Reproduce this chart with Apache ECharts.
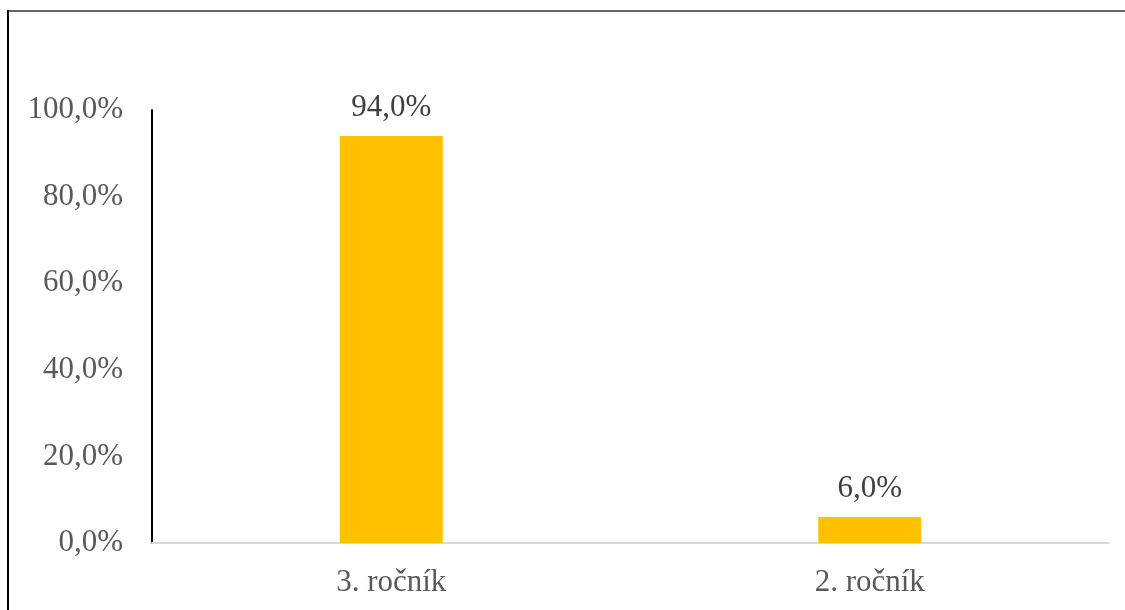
<!DOCTYPE html>
<html>
<head>
<meta charset="utf-8">
<script src="https://cdn.jsdelivr.net/npm/echarts@6/dist/echarts.min.js"></script>
<style>
  html, body { margin: 0; padding: 0; background: #fff; }
  #chart { width: 1125px; height: 610px; }
</style>
</head>
<body>
<div id="chart"></div>
<script>
const categories = ["3. ročník", "2. ročník"];
const values = [94.0, 6.0];
const yTicks = [0, 20, 40, 60, 80, 100];

const font = "'Liberation Serif', 'Times New Roman', serif";
const fmt = v => v.toFixed(1).replace(".", ",") + "%";

const chart = echarts.init(document.getElementById("chart"));
chart.setOption({
  animation: false,
  grid: { left: 152, right: 16, top: 110, bottom: 67 },
  xAxis: {
    type: "category",
    data: categories,
    axisTick: { show: false },
    axisLine: { lineStyle: { color: "#d9d9d9", width: 2 } },
    axisLabel: { color: "#595959", fontFamily: font, fontSize: 31, margin: 24 }
  },
  yAxis: {
    type: "value",
    min: yTicks[0],
    max: yTicks[yTicks.length - 1],
    interval: 20,
    splitLine: { show: false },
    axisTick: { show: false },
    axisLine: { show: true, lineStyle: { color: "#000", width: 2 } },
    axisLabel: { color: "#595959", fontFamily: font, fontSize: 31, margin: 29, formatter: fmt }
  },
  graphic: [
    { type: "line", shape: { x1: 8, y1: 11, x2: 1125, y2: 11 }, style: { stroke: "#666", lineWidth: 2 } },
    { type: "line", shape: { x1: 8, y1: 10, x2: 8, y2: 610 }, style: { stroke: "#000", lineWidth: 2 } }
  ],
  series: [{
    type: "bar",
    data: values,
    barWidth: 103,
    itemStyle: { color: "#FFC000" },
    label: {
      show: true,
      position: "top",
      distance: 13,
      color: "#404040",
      fontFamily: font,
      fontSize: 31,
      formatter: p => fmt(p.value)
    }
  }]
});
</script>
</body>
</html>
